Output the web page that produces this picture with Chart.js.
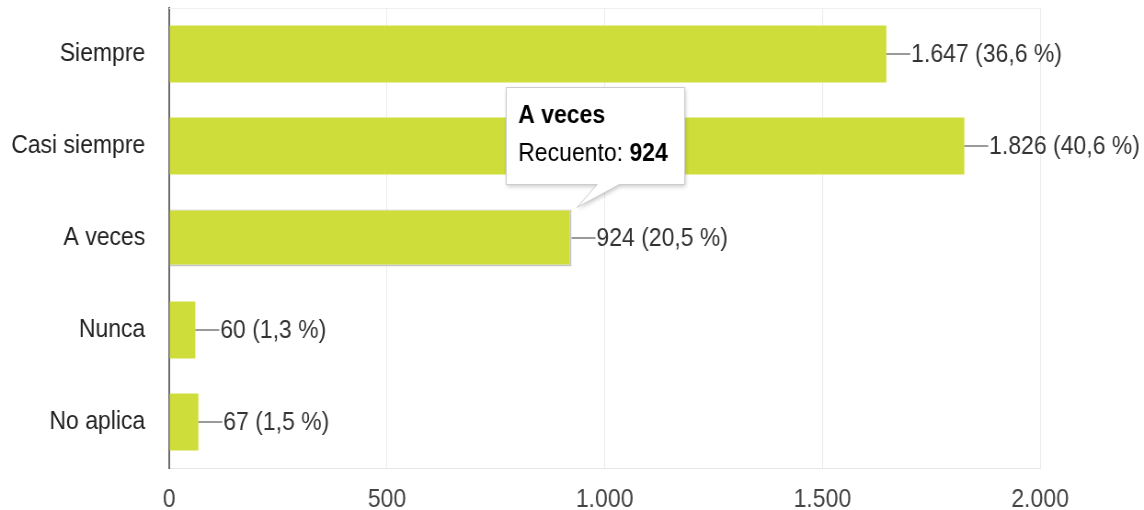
<!DOCTYPE html>
<html><head><meta charset="utf-8">
<script src="https://cdn.jsdelivr.net/npm/chart.js@4/dist/chart.umd.min.js"></script>
<style>
html,body{margin:0;padding:0;background:#fff;overflow:hidden}
#wrap{width:1244px;height:510px;transform:scaleX(0.9196);transform-origin:0 0}
</style></head><body>
<div id="wrap"><canvas id="c" width="1244" height="510"></canvas></div>
<script>
const categories = ['Siempre', 'Casi siempre', 'A veces', 'Nunca', 'No aplica'];
const counts = [1647, 1826, 924, 60, 67];
const percents = [36.6, 40.6, 20.5, 1.3, 1.5];
const xTickValues = [0, 500, 1000, 1500, 2000];
const tooltipIndex = 2;
const tooltipLabel = 'Recuento';

const FONT = "'Liberation Sans', Arial, sans-serif";
const BAR = '#cfdd3a';
function fmtNum(n){ return String(n).replace(/\B(?=(\d{3})+(?!\d))/g, '.'); }
function fmtPct(p){ return p.toFixed(1).replace('.', ',') + ' %'; }

const framePlugin = {
  id: 'frame',
  beforeDatasetsDraw(chart){
    const {ctx, chartArea: a} = chart;
    ctx.save();
    ctx.strokeStyle = '#f0f0f0'; ctx.lineWidth = 1;
    ctx.beginPath(); ctx.moveTo(a.left, a.top + 0.5); ctx.lineTo(a.right, a.top + 0.5); ctx.stroke();
    ctx.restore();
  }
};

const labelPlugin = {
  id: 'valueLabels',
  afterDatasetsDraw(chart){
    const ctx = chart.ctx;
    const meta = chart.getDatasetMeta(0);
    ctx.save();
    meta.data.forEach((bar, i) => {
      const x = bar.x, y = Math.round(bar.y);
      ctx.strokeStyle = '#9a9a9a'; ctx.lineWidth = 2;
      ctx.beginPath(); ctx.moveTo(x, y); ctx.lineTo(x + 26, y); ctx.stroke();
      ctx.fillStyle = '#333333';
      ctx.font = '25px ' + FONT;
      ctx.textBaseline = 'middle'; ctx.textAlign = 'left';
      ctx.fillText(fmtNum(counts[i]) + ' (' + fmtPct(percents[i]) + ')', x + 27, y + 1);
    });
    ctx.restore();
  }
};

const tipPlugin = {
  id: 'tip',
  afterDraw(chart){
    const ctx = chart.ctx;
    const bar = chart.getDatasetMeta(0).data[tooltipIndex];
    const tipX = bar.x + 6, tipY = bar.y - bar.height / 2 - 2;
    const bw = 194, bh = 97;
    const left = tipX - 77, bottom = tipY - 23, top = bottom - bh;
    ctx.save();
    ctx.beginPath();
    ctx.moveTo(left, top); ctx.lineTo(left + bw, top); ctx.lineTo(left + bw, bottom);
    ctx.lineTo(tipX + 46, bottom); ctx.lineTo(tipX, tipY); ctx.lineTo(tipX + 22, bottom);
    ctx.lineTo(left, bottom); ctx.closePath();
    ctx.shadowColor = 'rgba(0,0,0,0.22)'; ctx.shadowBlur = 4; ctx.shadowOffsetX = 1; ctx.shadowOffsetY = 2;
    ctx.fillStyle = '#ffffff'; ctx.fill();
    ctx.shadowColor = 'transparent'; ctx.shadowBlur = 0; ctx.shadowOffsetX = 0; ctx.shadowOffsetY = 0;
    ctx.strokeStyle = '#cccccc'; ctx.lineWidth = 1; ctx.stroke();
    ctx.fillStyle = '#000000';
    ctx.textBaseline = 'alphabetic'; ctx.textAlign = 'left';
    ctx.font = 'bold 25px ' + FONT;
    ctx.fillText(categories[tooltipIndex], left + 13, top + 36);
    ctx.font = '25px ' + FONT;
    const lab = tooltipLabel + ': ';
    ctx.fillText(lab, left + 13, top + 74);
    const w = ctx.measureText(lab).width;
    ctx.font = 'bold 25px ' + FONT;
    ctx.fillText(fmtNum(counts[tooltipIndex]), left + 13 + w, top + 74);
    ctx.restore();
  }
};

new Chart(document.getElementById('c'), {
  type: 'bar',
  data: {
    labels: categories,
    datasets: [{
      data: counts,
      backgroundColor: BAR,
      borderColor: counts.map((v, i) => i === tooltipIndex ? '#c6c6c6' : BAR),
      borderWidth: counts.map((v, i) => i === tooltipIndex ? {top: 1, left: 0, right: 2, bottom: 2} : 0),
      borderSkipped: false,
      categoryPercentage: 1,
      barPercentage: 0.62
    }]
  },
  options: {
    indexAxis: 'y',
    responsive: false,
    animation: false,
    devicePixelRatio: 1,
    layout: { padding: { top: 8, right: 113, left: 0, bottom: 0 } },
    plugins: { legend: { display: false }, tooltip: { enabled: false } },
    events: [],
    scales: {
      x: {
        type: 'linear', min: 0, max: 2000,
        afterBuildTicks(s){ s.ticks = xTickValues.map(v => ({value: v})); },
        afterFit(s){ s.height = 42; s.paddingLeft = 0; s.paddingRight = 0; },
        grid: { color: '#ebebeb', lineWidth: 1, drawTicks: false },
        border: { display: true, color: '#e6e6e6', width: 1 },
        ticks: { padding: 17, color: '#444444', font: { family: FONT, size: 25 }, callback: v => fmtNum(v), maxRotation: 0 }
      },
      y: {
        type: 'category',
        afterFit(s){ s.width = 184; s.paddingTop = 0; s.paddingBottom = 0; },
        grid: { display: false, drawTicks: false },
        border: { display: true, color: '#6b6b6b', width: 2 },
        ticks: { padding: 26, color: '#222222', font: { family: FONT, size: 25 } }
      }
    }
  },
  plugins: [framePlugin, labelPlugin, tipPlugin]
});
</script>
</body></html>
